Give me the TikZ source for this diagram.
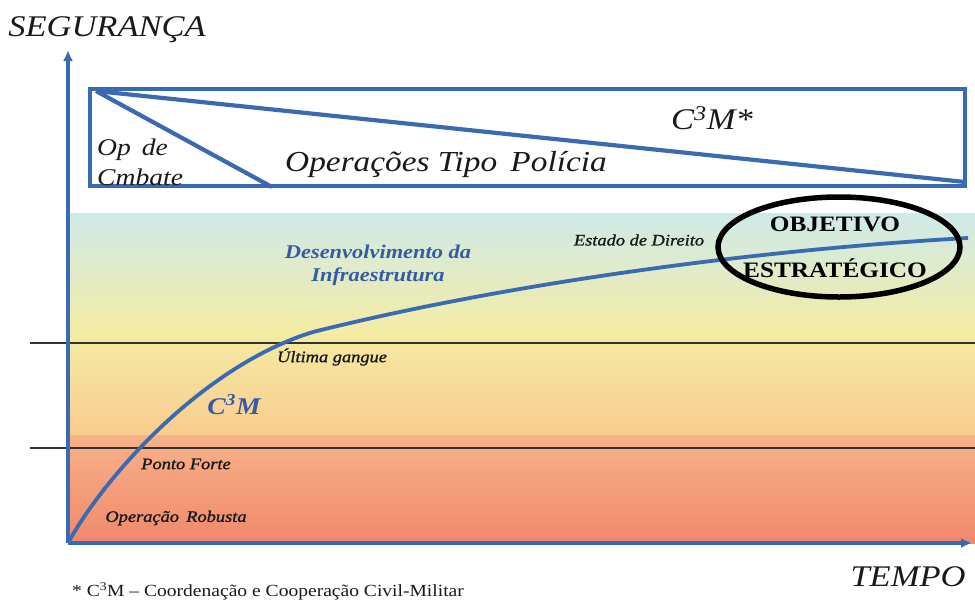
\documentclass[tikz,border=0pt]{standalone}
\usepackage{fontspec}
\setmainfont[FakeStretch=1.15]{Liberation Serif}
\newfontfamily\heavyfam[FakeStretch=1.15,FakeBold=1.2]{Liberation Serif}
\usetikzlibrary{arrows.meta}
\definecolor{lblue}{RGB}{58,106,178}
\definecolor{tblue}{RGB}{55,90,165}
\definecolor{cteal}{RGB}{206,234,234}
\definecolor{cyel}{RGB}{244,236,164}
\definecolor{corg}{RGB}{249,204,142}
\definecolor{csal1}{RGB}{248,178,136}
\definecolor{csal2}{RGB}{240,136,110}
\definecolor{txt}{RGB}{25,25,25}
\tikzset{
  axisline/.style={draw=lblue, line width=3.6pt, -{Latex[length=11pt,width=10pt]}},
  boxline/.style={draw=lblue, line width=4.6pt},
  diagline/.style={draw=lblue, line width=4.2pt},
  curveline/.style={draw=lblue, line width=3.8pt},
  hline/.style={draw=black!80, line width=1.3pt},
  lbl/.style={font=\itshape, text=txt, inner sep=0pt},
  blbl/.style={font=\bfseries\itshape, text=tblue, inner sep=0pt},
}
\begin{document}
\begin{tikzpicture}[x=1pt,y=-1pt]
\useasboundingbox (0,0) rectangle (975,603);
% background gradient
\shade[top color=cteal, bottom color=cyel] (70,213) rectangle (975,331);
\shade[top color=cyel, bottom color=corg] (70,330) rectangle (975,436);
\shade[top color=csal1, bottom color=csal2] (70,435) rectangle (975,543);
% horizontal reference lines
\coordinate (h1a) at (30,343); \coordinate (h1b) at (975,343);
\coordinate (h2a) at (30,448); \coordinate (h2b) at (975,448);
\draw[hline] (h1a) -- (h1b);
\draw[hline] (h2a) -- (h2b);
% axes
\coordinate (o) at (68,543);
\coordinate (ytop) at (68,50);
\coordinate (xend) at (972,543);
\draw[axisline] (o) -- (ytop);
\draw[axisline] (o) -- (xend);
% top box
\coordinate (b1) at (90,89);
\coordinate (b2) at (965,186);
\coordinate (d0) at (96,91);
\coordinate (d1) at (965,182);
\coordinate (d2) at (272,187);
\draw[boxline] (b1) rectangle (b2);
\draw[diagline] (d0) -- (d1);
\draw[diagline] (d0) -- (d2);
% curve
\coordinate (k) at (313,332);
\coordinate (e) at (968,238);
\draw[curveline] (o) .. controls (106,474) and (205,365) .. (k) .. controls (500,285) and (750,250) .. (e);
% ellipse
\coordinate (ec) at (839,247);
\draw[line width=5.5pt] (ec) ellipse [x radius=121, y radius=50];
% texts
\node[lbl, font=\itshape\fontsize{30}{30}\selectfont] (seg) at (107,30) {SEGURANÇA};
\node[lbl, font=\itshape\fontsize{30}{30}\selectfont] (tempo) at (908,577) {TEMPO};
\node[lbl, font=\itshape\fontsize{24}{24}\selectfont, anchor=west] (op1) at (97,150) {Op\, de};
\node[lbl, font=\itshape\fontsize{24}{24}\selectfont, anchor=west] (op2) at (97,177) {Cmbate};
\node[lbl, font=\itshape\fontsize{29}{29}\selectfont] (pol) at (446,165) {Operações Tipo\, Polícia};
\node[lbl, font=\itshape\fontsize{30}{30}\selectfont] (c3ms) at (712,118) {C\textsuperscript{3}M*};
\node[blbl, font=\bfseries\itshape\fontsize{19.5}{19.5}\selectfont] (des1) at (378,252) {Desenvolvimento da};
\node[blbl, font=\bfseries\itshape\fontsize{19.5}{19.5}\selectfont] (des2) at (378,277) {Infraestrutura};
\node[lbl, font=\heavyfam\itshape\fontsize{16}{16}\selectfont] (est) at (639,240) {Estado de Direito};
\node[inner sep=0pt, font=\bfseries\fontsize{22}{22}\selectfont] (obj1) at (835,224) {OBJETIVO};
\node[inner sep=0pt, font=\bfseries\fontsize{22}{22}\selectfont] (obj2) at (835,268) {ESTRATÉGICO};
\node[lbl, font=\heavyfam\itshape\fontsize{16}{16}\selectfont] (ult) at (332,357) {Última gangue};
\node[blbl, font=\bfseries\itshape\fontsize{24}{24}\selectfont] (c3m) at (234,405) {C\textsuperscript{3}M};
\node[lbl, font=\heavyfam\itshape\fontsize{16}{16}\selectfont] (pf) at (186,464) {Ponto Forte};
\node[lbl, font=\heavyfam\itshape\fontsize{16}{16}\selectfont] (rob) at (176,518) {Operação\, Robusta};
\node[inner sep=0pt, text=txt, font=\fontsize{17}{17}\selectfont] (foot) at (268,591) {* C\textsuperscript{3}M -- Coordenação e Cooperação Civil-Militar};
\end{tikzpicture}
\end{document}
